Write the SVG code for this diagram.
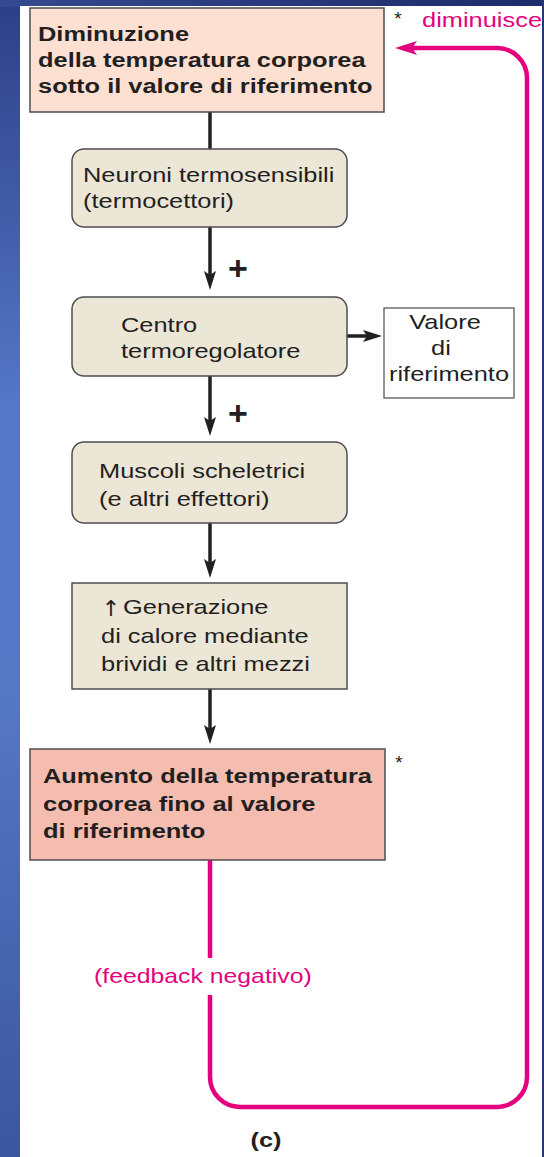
<svg xmlns="http://www.w3.org/2000/svg" width="544" height="1157" viewBox="0 0 544 1157">
<defs>
<linearGradient id="bgL" x1="0" y1="0" x2="0" y2="1">
<stop offset="0" stop-color="#2d3f86"/>
<stop offset="0.35" stop-color="#5577c6"/>
<stop offset="0.6" stop-color="#5677c4"/>
<stop offset="1" stop-color="#3b569e"/>
</linearGradient>
<linearGradient id="bgT" x1="0" y1="0" x2="1" y2="0">
<stop offset="0" stop-color="#34498f"/>
<stop offset="1" stop-color="#1c2b6a"/>
</linearGradient>
<marker id="ak" markerUnits="userSpaceOnUse" markerWidth="30" markerHeight="20" viewBox="-15 -10 30 20" refX="0" refY="0" orient="auto">
<path d="M6,0 L-13,-6 L-9,0 L-13,6 Z" fill="#231f20"/>
</marker>
<marker id="am" markerUnits="userSpaceOnUse" markerWidth="36" markerHeight="20" viewBox="-18 -10 36 20" refX="0" refY="0" orient="auto">
<path d="M10,0 L-12,-7 L-7,0 L-12,7 Z" fill="#e5007e"/>
</marker>
</defs>
<style>
.t{font-family:"Liberation Sans",Arial,sans-serif;font-size:20.5px;fill:#231f20}
.b{font-weight:bold}
.mg{fill:#e5007e}
.bx{stroke:#4d4d4d;stroke-width:1.5}
.beige{fill:#ece6d6}
.k{fill:none;stroke:#231f20;stroke-width:3.5}
.m{fill:none;stroke:#e5007e;stroke-width:4.5}
.ast{font-size:19px}
</style>
<rect x="0" y="0" width="544" height="1157" fill="url(#bgL)"/>
<rect x="0" y="0" width="544" height="7" fill="url(#bgT)"/>
<rect x="541" y="0" width="3" height="1157" fill="#27377a"/>
<rect x="20" y="6" width="522" height="1151" fill="#ffffff"/>

<g id="connectors">
<line class="k" x1="210" y1="112" x2="210" y2="149"/>
<line class="k" x1="210" y1="227" x2="210" y2="284" marker-end="url(#ak)"/>
<line class="k" x1="347" y1="336" x2="376" y2="336" marker-end="url(#ak)"/>
<line class="k" x1="210" y1="376" x2="210" y2="430" marker-end="url(#ak)"/>
<line class="k" x1="210" y1="523" x2="210" y2="572" marker-end="url(#ak)"/>
<line class="k" x1="210" y1="689" x2="210" y2="738" marker-end="url(#ak)"/>
<line class="m" x1="210" y1="860" x2="210" y2="958"/>
<path class="m" d="M210,995 L210,1077 A30,30 0 0 0 240,1107 L497,1107 A30,30 0 0 0 527,1077 L527,78 A30,30 0 0 0 497,48 L405,48" marker-end="url(#am)"/>
<text class="t" transform="matrix(1 0 0 1 238 280)" text-anchor="middle" style="font-size:34px;font-weight:bold">+</text>
<text class="t" transform="matrix(1 0 0 1 238 425)" text-anchor="middle" style="font-size:34px;font-weight:bold">+</text>
<text class="t mg" transform="matrix(1.24 0 0 1 94 983)" style="font-size:20px">(feedback negativo)</text>
</g>

<g id="n1">
<rect class="bx" x="30" y="8" width="354" height="104" fill="#fde0d2"/>
<text class="t b" transform="matrix(1.24 0 0 1 38 41)"><tspan x="0" y="0">Diminuzione</tspan><tspan x="0" y="26">della temperatura corporea</tspan><tspan x="0" y="52">sotto il valore di riferimento</tspan></text>
<text class="t ast" x="398" y="25" text-anchor="middle">*</text>
<text class="t mg" transform="matrix(1.24 0 0 1 422 27)">diminuisce</text>
</g>

<g id="n2">
<rect class="bx beige" x="72" y="149" width="275" height="78" rx="12"/>
<text class="t" transform="matrix(1.24 0 0 1 83 182)"><tspan x="0" y="0">Neuroni termosensibili</tspan><tspan x="0" y="26">(termocettori)</tspan></text>
</g>

<g id="n3">
<rect class="bx beige" x="72" y="297" width="275" height="79" rx="12"/>
<text class="t" transform="matrix(1.24 0 0 1 121 332)"><tspan x="0" y="0">Centro</tspan><tspan x="0" y="26">termoregolatore</tspan></text>
</g>

<g id="n3b">
<rect x="384" y="308" width="130" height="90" fill="#ffffff" stroke="#5a5a5a" stroke-width="1.3"/>
<text class="t" transform="matrix(1.24 0 0 1 445 329)" text-anchor="middle">Valore</text>
<text class="t" transform="matrix(1.24 0 0 1 441 355)" text-anchor="middle">di</text>
<text class="t" transform="matrix(1.24 0 0 1 449 381)" text-anchor="middle">riferimento</text>
</g>

<g id="n4">
<rect class="bx beige" x="72" y="442" width="275" height="81" rx="12"/>
<text class="t" transform="matrix(1.24 0 0 1 99 478)"><tspan x="0" y="0">Muscoli scheletrici</tspan><tspan x="0" y="28">(e altri effettori)</tspan></text>
</g>

<g id="n5">
<rect class="bx beige" x="72" y="583" width="275" height="106"/>
<text x="111" y="616" text-anchor="middle" style="font-family:'DejaVu Sans',sans-serif;font-size:22px;fill:#231f20">↑</text>
<text class="t" transform="matrix(1.24 0 0 1 123 614)">Generazione</text>
<text class="t" transform="matrix(1.24 0 0 1 101 643)"><tspan x="0" y="0">di calore mediante</tspan><tspan x="0" y="28">brividi e altri mezzi</tspan></text>
</g>

<g id="n6">
<rect class="bx" x="30" y="749" width="355" height="111" fill="#f5bdb0"/>
<text class="t b" transform="matrix(1.24 0 0 1 43 783)"><tspan x="0" y="0">Aumento della temperatura</tspan><tspan x="0" y="28">corporea fino al valore</tspan><tspan x="0" y="55">di riferimento</tspan></text>
<text class="t ast" x="399" y="769" text-anchor="middle">*</text>
</g>

<g id="caption">
<text class="t b" transform="matrix(1.24 0 0 1 266 1147)" text-anchor="middle">(c)</text>
</g>
</svg>
